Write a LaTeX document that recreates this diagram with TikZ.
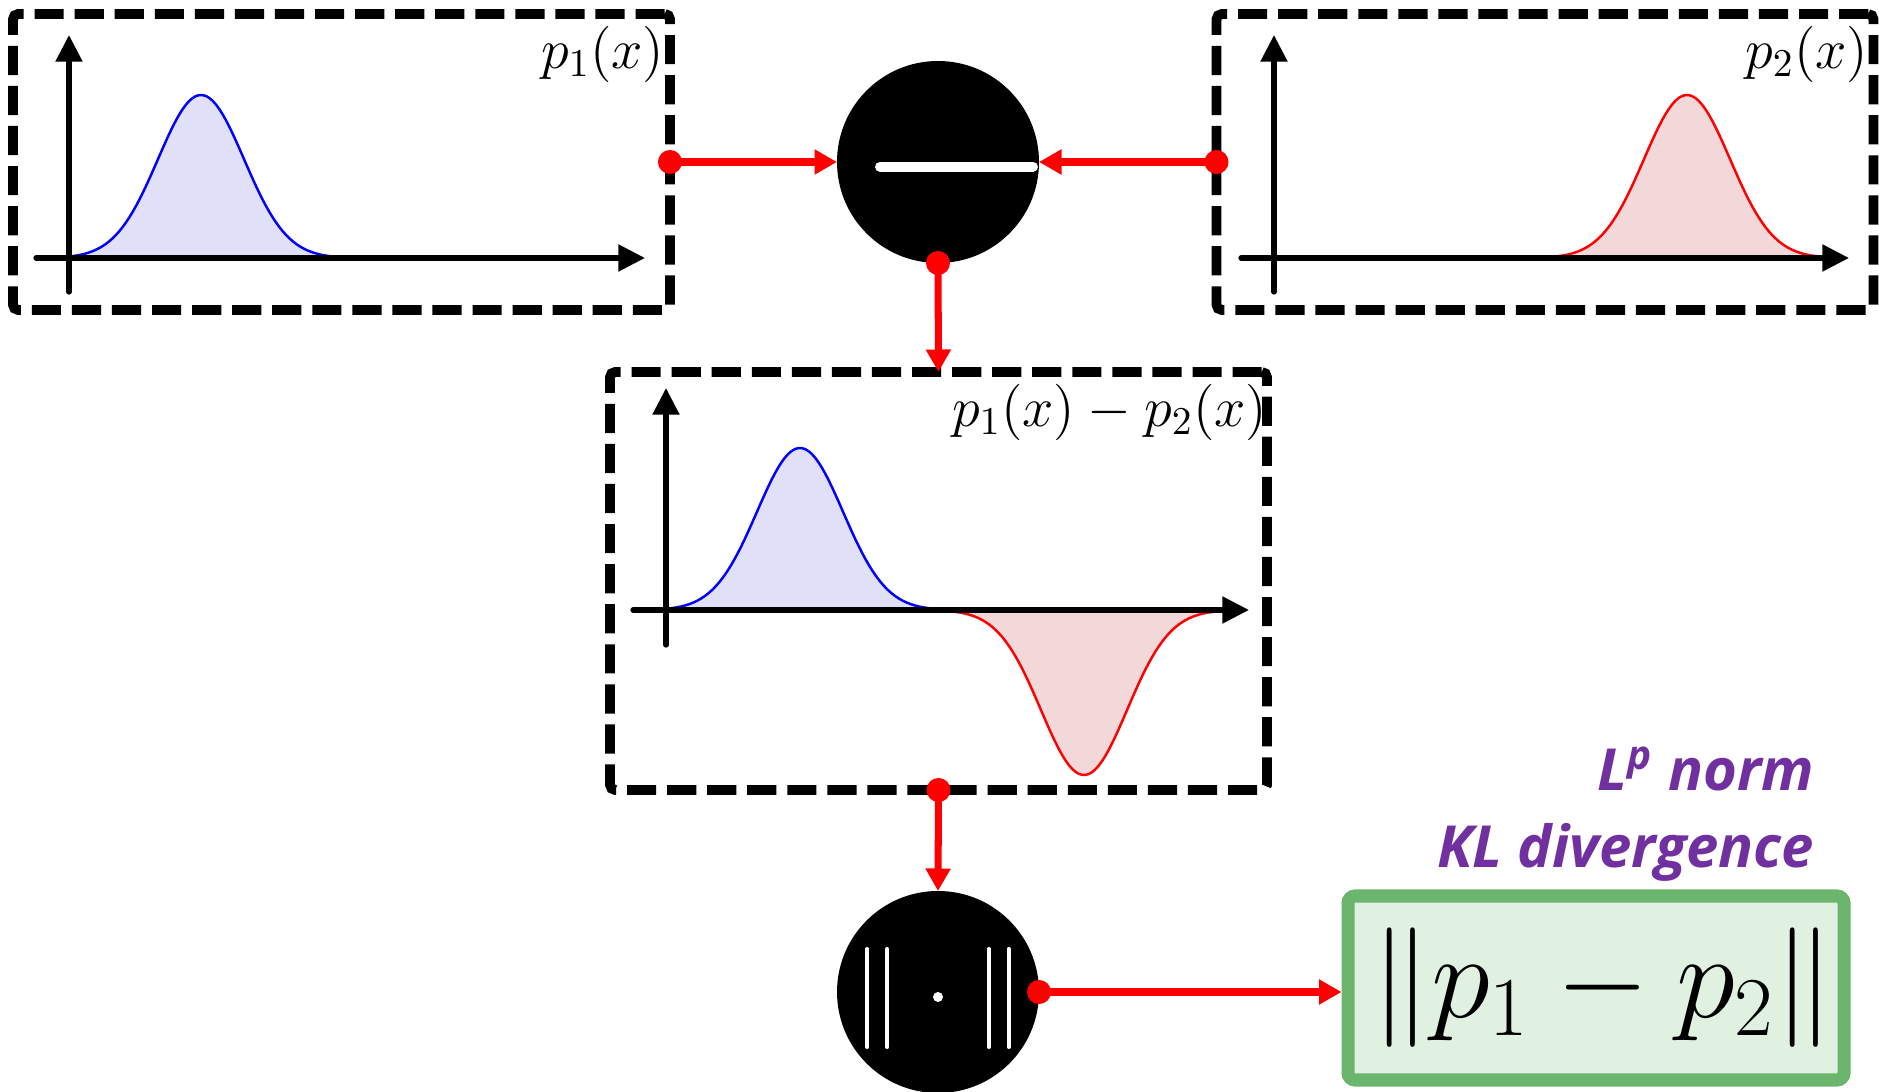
\documentclass[tikz,border=0pt]{standalone}
\usepackage{fix-cm}
\usepackage{fontspec}
\newfontfamily\notefont{Open Sans}
\usetikzlibrary{arrows.meta}
\definecolor{curveblue}{HTML}{E0E0F8}
\definecolor{curvered}{HTML}{F3D8DA}
\definecolor{notepurple}{HTML}{7030A0}
\definecolor{resgreen}{HTML}{6BB56E}
\definecolor{resfill}{HTML}{E0F0E1}

\tikzset{
  dashbox/.style={draw, line width=2.8pt, dash pattern=on 8.3pt off 3.1pt,
    rounded corners=1.5pt, minimum width=6.57cm, inner sep=0pt, outer sep=0pt},
  opnode/.style={circle, fill=black, minimum size=2.02cm, inner sep=0pt, outer sep=0pt},
  link/.style={red, line width=2pt, shorten <=-3.4pt,
    {Circle[length=6.8pt]}-{Triangle[length=6.4pt,width=6.8pt]}},
  axis/.style={line width=1.5pt, line cap=round, -{Triangle[length=7.6pt,width=7.4pt]}},
  pdflabel/.style={anchor=east, inner sep=0pt, font=\fontsize{16}{19}\selectfont},
}

\begin{document}
\begin{tikzpicture}
  \useasboundingbox (0,0) rectangle (18.79,10.91);
  % dashed plot boxes
  \node[dashbox, minimum height=2.96cm] (box1) at (3.415,9.29) {};
  \node[dashbox, minimum height=2.96cm] (box2) at (15.45,9.29) {};
  \node[dashbox, minimum height=4.18cm] (box3) at (9.385,5.10) {};
  % operators
  \node[opnode] (minus) at (9.38,9.29) {};
  \node[opnode] (norm) at (9.38,0.99) {};
  \draw[white, line width=2.85pt, line cap=round] (8.80,9.243) -- (10.33,9.243);
  \foreach \x in {8.673,8.873,9.887,10.087}
    \draw[white, line width=1.15pt, line cap=round] (\x,0.44) -- (\x,1.42);
  \fill[white] (9.38,0.94) circle (0.05);
  % result
  \node[draw=resgreen, fill=resfill, line width=3.7pt, rounded corners=2pt,
        minimum width=4.96cm, minimum height=1.84cm, inner sep=0pt]
        (result) at (15.96,1.03) {\fontsize{34}{41}\selectfont$\kern4pt\|p_1 - p_2\|$};
  \node[anchor=east, align=right, inner sep=0pt, text=notepurple,
        font=\notefont\bfseries\itshape\fontsize{16.5}{22}\selectfont]
        (note) at (18.15,2.77) {L\textsuperscript{p} norm\\KL divergence};
  % p1
  \draw[blue, line width=0.7pt, fill=curveblue]
    plot[domain=0.69:3.33, samples=80] (\x,{8.33+1.63*exp(-0.5*((\x-2.01)/0.43)^2)}) -- cycle;
  \draw[axis] (0.69,7.99) -- (0.69,10.56);
  \draw[axis] (0.36,8.33) -- (6.45,8.33);
  \node[pdflabel] (lab1) at (6.65,10.365) {$p_1(x)$};
  % p2
  \draw[red, line width=0.7pt, fill=curvered]
    plot[domain=15.55:18.19, samples=80] (\x,{8.33+1.63*exp(-0.5*((\x-16.87)/0.43)^2)}) -- cycle;
  \draw[axis] (12.74,7.99) -- (12.74,10.56);
  \draw[axis] (12.41,8.33) -- (18.49,8.33);
  \node[pdflabel] (lab2) at (18.69,10.365) {$p_2(x)$};
  % difference
  \draw[blue, line width=0.7pt, fill=curveblue]
    plot[domain=6.68:9.32, samples=80] (\x,{4.81+1.62*exp(-0.5*((\x-8.00)/0.43)^2)}) -- cycle;
  \draw[red, line width=0.7pt, fill=curvered]
    plot[domain=9.52:12.16, samples=80] (\x,{4.81-1.65*exp(-0.5*((\x-10.84)/0.43)^2)}) -- cycle;
  \draw[axis] (6.66,4.46) -- (6.66,7.03);
  \draw[axis] (6.33,4.81) -- (12.49,4.81);
  \node[pdflabel] (lab3) at (12.68,6.785) {$p_1(x)-p_2(x)$};
  % connectors
  \draw[link] (box1.east) -- (minus.west);
  \draw[link] (box2.west) -- (minus.east);
  \draw[link] (minus.south) -- (box3.north);
  \draw[link] (box3.south) -- (norm.north);
  \draw[link] (norm.east) -- (norm.east -| result.west);
\end{tikzpicture}
\end{document}
